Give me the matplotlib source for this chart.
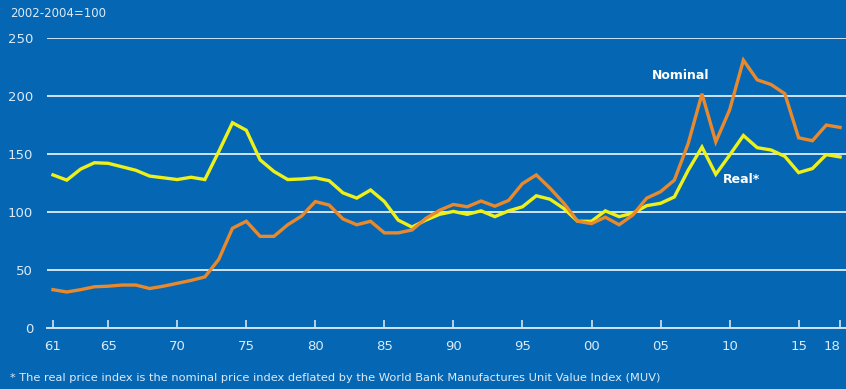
import matplotlib.pyplot as plt

years = list(range(1961, 2019))

nominal = [33, 31, 33, 35.5, 36, 37, 37, 34, 36, 38.5, 41, 44, 59, 86, 92, 79, 79, 89,
           96.5, 109, 106, 94, 89, 92, 82, 82, 84.5, 94.5, 101.5, 106.5, 104.5, 109.5,
           105, 110, 124.5, 132, 120.5, 107.5, 92, 90, 95.5, 89, 97.5, 112, 117.5, 127.5,
           159, 202, 160.5, 188, 231, 214, 210, 202, 164, 161.5, 175, 173]

real = [132, 127.5, 137, 142.5, 142, 139, 136, 131, 129.5, 128, 130, 128, 152, 177,
        170.5, 145, 135, 128, 128.5, 129.5, 127, 116.5, 112, 119, 109, 93, 87, 93, 98,
        100.5, 98, 101, 96, 101, 104.5, 114, 111, 103, 92, 92, 101, 96, 99, 105.5, 107.5,
        113, 136, 156, 132.5, 149, 166, 155.5, 153.5, 148, 134, 137.5, 149.5, 147.5]

tick_years = [1961, 1965, 1970, 1975, 1980, 1985, 1990, 1995, 2000, 2005, 2010, 2015, 2018]
tick_labels = ["61", "65", "70", "75", "80", "85", "90", "95", "00", "05", "10", "15", "18"]

bg = "#0567b3"
grid_c = "#cfe4f5"
text_c = "#dbeaf7"

fig = plt.figure(figsize=(8.46, 3.89), dpi=100, facecolor=bg)
ax = fig.add_axes([0.0556, 0.157, 0.9444, 0.745])
ax.set_facecolor(bg)

ax.plot(years, real, color="#eef01a", lw=2.4, zorder=3, solid_joinstyle="miter")
ax.plot(years, nominal, color="#e8892d", lw=2.4, zorder=4, solid_joinstyle="miter")

ax.set_xlim(1960.57, 2018.43)
ax.set_ylim(0, 250)
ax.set_yticks([0, 50, 100, 150, 200, 250])
ax.set_xticks(tick_years)
ax.set_xticklabels(tick_labels)
ax.yaxis.grid(True, color=grid_c, lw=1.4)
ax.set_axisbelow(True)
for side in ["top", "right", "left"]:
    ax.spines[side].set_visible(False)
ax.spines["bottom"].set_color(grid_c)
ax.spines["bottom"].set_linewidth(1.4)
ax.tick_params(axis="x", direction="in", length=6, width=1.2, color=grid_c,
               labelcolor=text_c, labelsize=9.5, pad=9)
ax.tick_params(axis="y", length=0, labelcolor=text_c, labelsize=9.5, pad=10)
ax.get_xticklabels()[-1].set_horizontalalignment("right")
ax.get_xticklabels()[-1].set_x(2018.6)

ax.text(2004.4, 218, "Nominal", color="white", fontsize=9, fontweight="bold",
        ha="left", va="center")
ax.text(2009.5, 128, "Real*", color="white", fontsize=9, fontweight="bold",
        ha="left", va="center")

fig.text(0.012, 0.965, "2002-2004=100", color=text_c, fontsize=8.5,
         ha="left", va="center")
fig.text(0.012, 0.028,
         "* The real price index is the nominal price index deflated by the World Bank "
         "Manufactures Unit Value Index (MUV)",
         color=text_c, fontsize=8.2, ha="left", va="center")

fig.savefig("out.png", dpi=100, facecolor=bg)
